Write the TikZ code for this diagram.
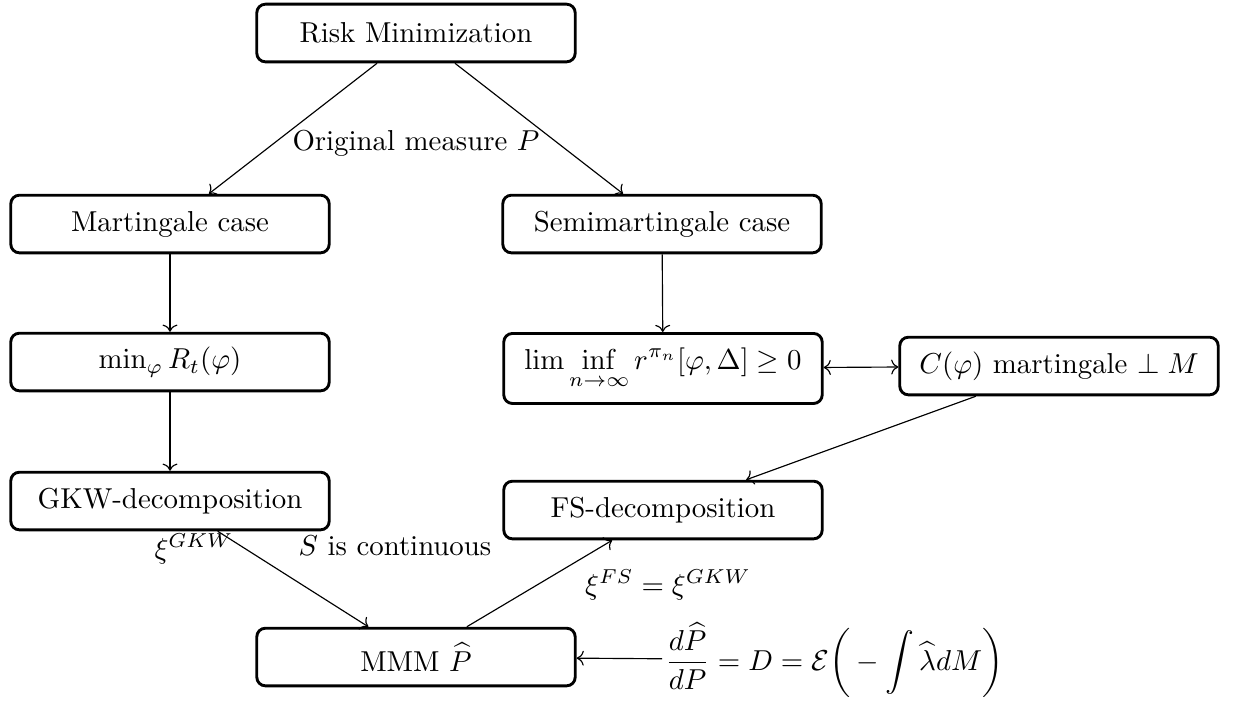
\documentclass[tikz,border=0pt]{standalone}
\usepackage{amsmath,amssymb}
\usetikzlibrary{arrows.meta}
\begin{document}
\begin{tikzpicture}[x=0.347pt,y=-0.347pt,
  box/.style={draw,line width=1pt,rounded corners=3pt,minimum width=110.5pt,minimum height=20pt,align=center,fill=white},
  conn/.style={->,thin},
  lbl/.style={inner sep=1pt}]
\useasboundingbox (0,0) rectangle (1234,706);
\node[box] (risk) at (416,33) {Risk Minimization};
\node[box] (mart) at (170,224) {Martingale case};
\node[box] (semi) at (662,224) {Semimartingale case};
\node[lbl] (orig) at (416,143) {Original measure $P$};
\node[box] (minR) at (170,362) {$\min_\varphi R_t(\varphi)$};
\node[box,anchor=north,minimum height=24.3pt] (lim) at (663,332) {$\displaystyle\lim\inf_{n\to\infty} r^{\pi_n}[\varphi,\Delta]\geq 0$};
\node[box] (cphi) at (1059,366) {$C(\varphi)$ martingale $\perp M$};
\node[box] (gkw) at (170,501) {GKW-decomposition};
\node[box] (fs) at (663,510) {FS-decomposition};
\node[box] (mmm) at (416,657) {MMM $\widehat{P}$};
\node[lbl,anchor=west] (form) at (662,660) {$\displaystyle\frac{d\widehat{P}}{dP}=D=\mathcal{E}\bigg(-\int\widehat{\lambda}dM\bigg)$};
\node[lbl] (lgkw) at (194,549) {$\xi^{GKW}$};
\node[lbl] (lcont) at (395,546) {$S$ is continuous};
\node[lbl] (lfs) at (668,585) {$\xi^{FS}=\xi^{GKW}$};
\draw[conn] (risk) -- (mart);
\draw[conn] (risk) -- (semi);
\draw[conn] (mart) -- (minR);
\draw[conn] (semi) -- (lim);
\draw[conn] (minR) -- (gkw);
\draw[<->,thin] (lim) -- (cphi);
\draw[conn] (cphi) -- (fs);
\draw[conn] (gkw) -- (mmm);
\draw[conn] (mmm) -- (fs);
\draw[conn] (form) -- (mmm);
\end{tikzpicture}
\end{document}
